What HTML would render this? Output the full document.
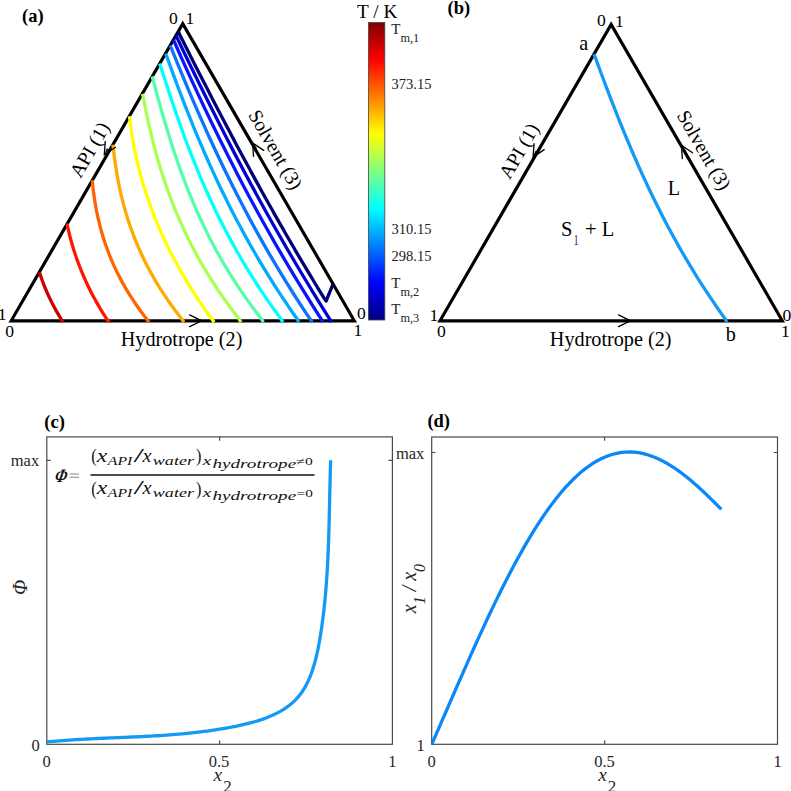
<!DOCTYPE html><html><head><meta charset="utf-8"><title>figure</title><style>html,body{margin:0;padding:0;background:#fff;width:791px;height:791px;overflow:hidden;}svg{display:block;}text{font-family:"Liberation Serif",serif;}</style></head><body>
<svg width="791" height="791" viewBox="0 0 791 791">
<rect width="791" height="791" fill="#fff"/>
<path d="M11.2,320.8L354.3,320.8L182.75,23.7Z" fill="none" stroke="#000" stroke-width="3.2" stroke-linejoin="miter" stroke-miterlimit="10"/>
<path d="M39.50,272.30L40.32,274.85L41.17,277.41L42.07,279.96L43.01,282.51L43.99,285.06L45.01,287.62L46.07,290.17L47.18,292.72L48.33,295.27L49.52,297.83L50.76,300.38L52.04,302.93L53.36,305.48L54.72,308.04L56.13,310.59L57.58,313.14L59.07,315.69L60.60,318.25L62.20,320.80L63.01,322.10" fill="none" stroke="#cc0000" stroke-width="3.3" stroke-linejoin="round"/>
<path d="M67.00,223.50L67.46,226.06L68.03,228.62L68.63,231.18L69.25,233.74L69.90,236.30L70.58,238.86L71.28,241.42L72.00,243.98L72.76,246.54L73.54,249.11L74.35,251.67L75.19,254.23L76.06,256.79L76.95,259.35L77.88,261.91L78.83,264.47L79.81,267.03L80.83,269.59L81.87,272.15L82.94,274.71L84.05,277.27L85.19,279.83L86.35,282.39L87.55,284.95L88.79,287.51L90.05,290.07L91.35,292.63L92.68,295.19L94.05,297.76L95.45,300.32L96.88,302.88L98.35,305.44L99.85,308.00L101.39,310.56L102.96,313.12L104.57,315.68L106.22,318.24L108.10,320.80L109.06,322.10" fill="none" stroke="#ff1500" stroke-width="3.3" stroke-linejoin="round"/>
<path d="M92.10,180.20L92.48,182.71L92.73,185.22L93.01,187.73L93.30,190.24L93.62,192.75L93.95,195.26L94.31,197.77L94.69,200.29L95.10,202.80L95.53,205.31L95.98,207.82L96.45,210.33L96.95,212.84L97.48,215.35L98.03,217.86L98.61,220.37L99.21,222.88L99.84,225.39L100.50,227.90L101.18,230.41L101.90,232.93L102.64,235.44L103.41,237.95L104.21,240.46L105.04,242.97L105.90,245.48L106.80,247.99L107.72,250.50L108.68,253.01L109.66,255.52L110.68,258.03L111.74,260.54L112.82,263.05L113.94,265.56L115.10,268.07L116.29,270.59L117.51,273.10L118.77,275.61L120.07,278.12L121.40,280.63L122.77,283.14L124.18,285.65L125.62,288.16L127.11,290.67L128.63,293.18L130.19,295.69L131.79,298.20L133.44,300.71L135.12,303.23L136.84,305.74L138.60,308.25L140.41,310.76L142.26,313.27L144.15,315.78L146.09,318.29L147.90,320.80L148.84,322.10" fill="none" stroke="#ff6400" stroke-width="3.3" stroke-linejoin="round"/>
<path d="M112.80,144.70L113.25,147.22L113.52,149.73L113.81,152.25L114.11,154.76L114.42,157.28L114.75,159.79L115.09,162.31L115.46,164.83L115.83,167.34L116.23,169.86L116.64,172.37L117.07,174.89L117.52,177.40L117.99,179.92L118.47,182.44L118.97,184.95L119.50,187.47L120.04,189.98L120.60,192.50L121.18,195.01L121.78,197.53L122.41,200.05L123.05,202.56L123.72,205.08L124.41,207.59L125.12,210.11L125.85,212.62L126.60,215.14L127.38,217.66L128.18,220.17L129.01,222.69L129.86,225.20L130.73,227.72L131.63,230.23L132.55,232.75L133.50,235.27L134.48,237.78L135.48,240.30L136.51,242.81L137.56,245.33L138.64,247.84L139.75,250.36L140.89,252.88L142.05,255.39L143.24,257.91L144.46,260.42L145.71,262.94L146.99,265.45L148.30,267.97L149.64,270.49L151.01,273.00L152.41,275.52L153.84,278.03L155.31,280.55L156.80,283.06L158.33,285.58L159.88,288.10L161.47,290.61L163.10,293.13L164.76,295.64L166.45,298.16L168.17,300.67L169.93,303.19L171.72,305.71L173.55,308.22L175.41,310.74L177.31,313.25L179.25,315.77L181.22,318.28L183.00,320.80L183.92,322.10" fill="none" stroke="#ffaa00" stroke-width="3.3" stroke-linejoin="round"/>
<path d="M129.40,116.30L129.81,118.82L130.11,121.35L130.42,123.87L130.75,126.40L131.10,128.92L131.46,131.45L131.84,133.97L132.24,136.50L132.66,139.02L133.10,141.55L133.55,144.07L134.02,146.60L134.51,149.12L135.02,151.65L135.54,154.17L136.09,156.70L136.65,159.22L137.23,161.74L137.83,164.27L138.44,166.79L139.08,169.32L139.73,171.84L140.40,174.37L141.10,176.89L141.80,179.42L142.53,181.94L143.28,184.47L144.04,186.99L144.83,189.52L145.63,192.04L146.46,194.57L147.30,197.09L148.16,199.61L149.04,202.14L149.94,204.66L150.86,207.19L151.79,209.71L152.75,212.24L153.73,214.76L154.73,217.29L155.74,219.81L156.78,222.34L157.84,224.86L158.91,227.39L160.01,229.91L161.12,232.44L162.26,234.96L163.41,237.49L164.59,240.01L165.79,242.53L167.00,245.06L168.24,247.58L169.50,250.11L170.78,252.63L172.07,255.16L173.39,257.68L174.73,260.21L176.09,262.73L177.47,265.26L178.88,267.78L180.30,270.31L181.74,272.83L183.21,275.36L184.69,277.88L186.20,280.40L187.73,282.93L189.28,285.45L190.85,287.98L192.44,290.50L194.06,293.03L195.69,295.55L197.35,298.08L199.03,300.60L200.73,303.13L202.45,305.65L204.19,308.18L205.96,310.70L207.74,313.23L209.55,315.75L211.39,318.28L213.20,320.80L214.13,322.10" fill="none" stroke="#ffff00" stroke-width="3.3" stroke-linejoin="round"/>
<path d="M142.50,93.90L143.10,96.42L143.57,98.94L144.05,101.46L144.54,103.98L145.04,106.51L145.55,109.03L146.06,111.55L146.59,114.07L147.12,116.59L147.67,119.11L148.22,121.63L148.78,124.15L149.35,126.67L149.94,129.20L150.53,131.72L151.13,134.24L151.75,136.76L152.37,139.28L153.01,141.80L153.66,144.32L154.32,146.84L154.99,149.36L155.68,151.89L156.37,154.41L157.08,156.93L157.80,159.45L158.54,161.97L159.29,164.49L160.05,167.01L160.82,169.53L161.61,172.05L162.42,174.58L163.24,177.10L164.07,179.62L164.92,182.14L165.78,184.66L166.66,187.18L167.55,189.70L168.46,192.22L169.38,194.74L170.32,197.27L171.28,199.79L172.25,202.31L173.24,204.83L174.25,207.35L175.27,209.87L176.31,212.39L177.37,214.91L178.45,217.43L179.54,219.96L180.66,222.48L181.79,225.00L182.94,227.52L184.11,230.04L185.29,232.56L186.50,235.08L187.73,237.60L188.97,240.12L190.24,242.65L191.53,245.17L192.83,247.69L194.16,250.21L195.51,252.73L196.88,255.25L198.27,257.77L199.68,260.29L201.12,262.81L202.57,265.34L204.05,267.86L205.55,270.38L207.07,272.90L208.62,275.42L210.18,277.94L211.78,280.46L213.39,282.98L215.03,285.50L216.69,288.03L218.38,290.55L220.09,293.07L221.82,295.59L223.58,298.11L225.37,300.63L227.18,303.15L229.01,305.67L230.88,308.19L232.76,310.72L234.67,313.24L236.61,315.76L238.58,318.28L240.20,320.80L241.04,322.10" fill="none" stroke="#aaff55" stroke-width="3.3" stroke-linejoin="round"/>
<path d="M152.20,76.40L152.78,78.92L153.46,81.44L154.14,83.96L154.82,86.48L155.50,89.00L156.18,91.52L156.87,94.04L157.57,96.56L158.26,99.08L158.96,101.60L159.67,104.12L160.38,106.64L161.09,109.15L161.81,111.67L162.53,114.19L163.26,116.71L164.00,119.23L164.74,121.75L165.49,124.27L166.24,126.79L167.00,129.31L167.77,131.83L168.55,134.35L169.33,136.87L170.12,139.39L170.92,141.91L171.72,144.43L172.54,146.95L173.36,149.47L174.19,151.99L175.04,154.51L175.89,157.03L176.75,159.55L177.62,162.07L178.50,164.59L179.39,167.11L180.29,169.62L181.20,172.14L182.12,174.66L183.06,177.18L184.01,179.70L184.96,182.22L185.93,184.74L186.92,187.26L187.91,189.78L188.92,192.30L189.94,194.82L190.97,197.34L192.02,199.86L193.08,202.38L194.16,204.90L195.25,207.42L196.35,209.94L197.47,212.46L198.60,214.98L199.75,217.50L200.92,220.02L202.10,222.54L203.29,225.06L204.51,227.58L205.73,230.09L206.98,232.61L208.24,235.13L209.52,237.65L210.82,240.17L212.13,242.69L213.47,245.21L214.82,247.73L216.19,250.25L217.57,252.77L218.98,255.29L220.41,257.81L221.85,260.33L223.32,262.85L224.80,265.37L226.30,267.89L227.83,270.41L229.37,272.93L230.94,275.45L232.53,277.97L234.14,280.49L235.77,283.01L237.42,285.53L239.09,288.05L240.79,290.56L242.51,293.08L244.25,295.60L246.01,298.12L247.80,300.64L249.61,303.16L251.45,305.68L253.31,308.20L255.19,310.72L257.10,313.24L259.03,315.76L260.99,318.28L262.60,320.80L263.43,322.10" fill="none" stroke="#55ffaa" stroke-width="3.3" stroke-linejoin="round"/>
<path d="M159.50,63.60L160.63,66.12L161.42,68.64L162.21,71.16L163.01,73.69L163.81,76.21L164.61,78.73L165.42,81.25L166.23,83.77L167.05,86.29L167.87,88.82L168.69,91.34L169.52,93.86L170.35,96.38L171.19,98.90L172.03,101.42L172.88,103.95L173.74,106.47L174.59,108.99L175.46,111.51L176.33,114.03L177.21,116.55L178.09,119.07L178.98,121.60L179.87,124.12L180.77,126.64L181.68,129.16L182.60,131.68L183.52,134.20L184.45,136.73L185.38,139.25L186.33,141.77L187.28,144.29L188.24,146.81L189.21,149.33L190.18,151.85L191.17,154.38L192.16,156.90L193.16,159.42L194.17,161.94L195.19,164.46L196.22,166.98L197.25,169.51L198.30,172.03L199.36,174.55L200.42,177.07L201.50,179.59L202.58,182.11L203.68,184.64L204.79,187.16L205.90,189.68L207.03,192.20L208.17,194.72L209.32,197.24L210.48,199.76L211.65,202.29L212.84,204.81L214.03,207.33L215.24,209.85L216.46,212.37L217.69,214.89L218.93,217.42L220.18,219.94L221.45,222.46L222.73,224.98L224.03,227.50L225.33,230.02L226.65,232.55L227.99,235.07L229.33,237.59L230.69,240.11L232.07,242.63L233.46,245.15L234.86,247.67L236.28,250.20L237.71,252.72L239.15,255.24L240.61,257.76L242.09,260.28L243.58,262.80L245.09,265.33L246.61,267.85L248.14,270.37L249.70,272.89L251.26,275.41L252.85,277.93L254.45,280.45L256.07,282.98L257.70,285.50L259.35,288.02L261.02,290.54L262.70,293.06L264.40,295.58L266.12,298.11L267.86,300.63L269.61,303.15L271.38,305.67L273.17,308.19L274.98,310.71L276.81,313.24L278.65,315.76L280.51,318.28L282.10,320.80L282.92,322.10" fill="none" stroke="#00ffff" stroke-width="3.3" stroke-linejoin="round"/>
<path d="M165.60,53.70L166.75,56.22L167.65,58.74L168.55,61.26L169.45,63.78L170.36,66.30L171.27,68.82L172.19,71.34L173.11,73.86L174.03,76.38L174.96,78.90L175.89,81.42L176.83,83.94L177.77,86.46L178.72,88.98L179.67,91.50L180.63,94.02L181.59,96.54L182.55,99.06L183.52,101.58L184.50,104.10L185.48,106.62L186.47,109.14L187.46,111.66L188.46,114.18L189.46,116.70L190.47,119.22L191.48,121.73L192.50,124.25L193.53,126.77L194.57,129.29L195.60,131.81L196.65,134.33L197.70,136.85L198.76,139.37L199.83,141.89L200.90,144.41L201.98,146.93L203.07,149.45L204.16,151.97L205.26,154.49L206.37,157.01L207.48,159.53L208.60,162.05L209.73,164.57L210.87,167.09L212.01,169.61L213.17,172.13L214.33,174.65L215.50,177.17L216.67,179.69L217.86,182.21L219.05,184.73L220.25,187.25L221.46,189.77L222.68,192.29L223.91,194.81L225.15,197.33L226.39,199.85L227.64,202.37L228.91,204.89L230.18,207.41L231.46,209.93L232.75,212.45L234.05,214.97L235.36,217.49L236.68,220.01L238.01,222.53L239.35,225.05L240.69,227.57L242.05,230.09L243.42,232.61L244.80,235.13L246.19,237.65L247.59,240.17L249.00,242.69L250.42,245.21L251.85,247.73L253.29,250.25L254.74,252.77L256.21,255.28L257.68,257.80L259.17,260.32L260.67,262.84L262.17,265.36L263.69,267.88L265.23,270.40L266.77,272.92L268.32,275.44L269.89,277.96L271.47,280.48L273.06,283.00L274.66,285.52L276.28,288.04L277.90,290.56L279.54,293.08L281.19,295.60L282.86,298.12L284.54,300.64L286.23,303.16L287.93,305.68L289.64,308.20L291.37,310.72L293.11,313.24L294.87,315.76L296.64,318.28L298.10,320.80L298.85,322.10" fill="none" stroke="#00aaff" stroke-width="3.3" stroke-linejoin="round"/>
<path d="M170.10,45.30L171.18,47.80L172.18,50.31L173.19,52.81L174.20,55.32L175.22,57.82L176.24,60.33L177.26,62.83L178.28,65.34L179.31,67.84L180.34,70.35L181.37,72.85L182.41,75.35L183.45,77.86L184.50,80.36L185.54,82.87L186.59,85.37L187.65,87.88L188.71,90.38L189.77,92.89L190.84,95.39L191.91,97.90L192.99,100.40L194.06,102.90L195.15,105.41L196.24,107.91L197.33,110.42L198.42,112.92L199.53,115.43L200.63,117.93L201.74,120.44L202.86,122.94L203.98,125.45L205.10,127.95L206.23,130.45L207.36,132.96L208.50,135.46L209.65,137.97L210.79,140.47L211.95,142.98L213.11,145.48L214.27,147.99L215.44,150.49L216.62,153.00L217.80,155.50L218.99,158.00L220.18,160.51L221.38,163.01L222.58,165.52L223.79,168.02L225.01,170.53L226.23,173.03L227.46,175.54L228.69,178.04L229.93,180.55L231.18,183.05L232.43,185.55L233.69,188.06L234.96,190.56L236.23,193.07L237.51,195.57L238.79,198.08L240.08,200.58L241.38,203.09L242.69,205.59L244.00,208.10L245.32,210.60L246.65,213.10L247.98,215.61L249.32,218.11L250.67,220.62L252.02,223.12L253.39,225.63L254.76,228.13L256.13,230.64L257.52,233.14L258.91,235.65L260.31,238.15L261.72,240.65L263.13,243.16L264.56,245.66L265.99,248.17L267.43,250.67L268.88,253.18L270.33,255.68L271.80,258.19L273.27,260.69L274.75,263.20L276.24,265.70L277.74,268.20L279.24,270.71L280.76,273.21L282.28,275.72L283.81,278.22L285.35,280.73L286.90,283.23L288.46,285.74L290.03,288.24L291.61,290.75L293.19,293.25L294.79,295.75L296.39,298.26L298.01,300.76L299.63,303.27L301.26,305.77L302.90,308.28L304.56,310.78L306.22,313.29L307.89,315.79L309.57,318.30L311.30,320.80L312.20,322.10" fill="none" stroke="#0a74ff" stroke-width="3.3" stroke-linejoin="round"/>
<path d="M173.50,40.00L174.66,42.51L175.77,45.01L176.88,47.52L177.99,50.03L179.10,52.54L180.22,55.04L181.34,57.55L182.47,60.06L183.60,62.56L184.73,65.07L185.86,67.58L187.00,70.09L188.14,72.59L189.28,75.10L190.43,77.61L191.58,80.11L192.73,82.62L193.89,85.13L195.05,87.64L196.21,90.14L197.38,92.65L198.55,95.16L199.72,97.66L200.90,100.17L202.08,102.68L203.27,105.19L204.45,107.69L205.65,110.20L206.84,112.71L208.04,115.21L209.24,117.72L210.45,120.23L211.66,122.74L212.88,125.24L214.10,127.75L215.32,130.26L216.55,132.76L217.78,135.27L219.01,137.78L220.25,140.29L221.49,142.79L222.74,145.30L223.99,147.81L225.25,150.31L226.51,152.82L227.77,155.33L229.04,157.84L230.31,160.34L231.59,162.85L232.87,165.36L234.16,167.86L235.45,170.37L236.74,172.88L238.04,175.39L239.35,177.89L240.66,180.40L241.97,182.91L243.29,185.41L244.61,187.92L245.94,190.43L247.27,192.94L248.61,195.44L249.95,197.95L251.30,200.46L252.65,202.96L254.01,205.47L255.37,207.98L256.74,210.49L258.11,212.99L259.49,215.50L260.87,218.01L262.26,220.51L263.65,223.02L265.05,225.53L266.45,228.04L267.86,230.54L269.28,233.05L270.69,235.56L272.12,238.06L273.55,240.57L274.99,243.08L276.43,245.59L277.87,248.09L279.33,250.60L280.78,253.11L282.25,255.61L283.72,258.12L285.19,260.63L286.67,263.14L288.16,265.64L289.65,268.15L291.15,270.66L292.66,273.16L294.17,275.67L295.68,278.18L297.20,280.69L298.73,283.19L300.27,285.70L301.81,288.21L303.35,290.71L304.90,293.22L306.46,295.73L308.03,298.24L309.60,300.74L311.18,303.25L312.76,305.76L314.35,308.26L315.95,310.77L317.55,313.28L319.16,315.79L320.78,318.29L322.10,320.80L322.79,322.10" fill="none" stroke="#0a14ff" stroke-width="3.3" stroke-linejoin="round"/>
<path d="M176.20,35.50L177.17,38.00L178.36,40.51L179.56,43.01L180.75,45.51L181.95,48.01L183.15,50.52L184.35,53.02L185.55,55.52L186.76,58.02L187.96,60.53L189.17,63.03L190.38,65.53L191.60,68.03L192.82,70.54L194.03,73.04L195.25,75.54L196.48,78.04L197.70,80.55L198.93,83.05L200.16,85.55L201.40,88.06L202.63,90.56L203.87,93.06L205.11,95.56L206.35,98.07L207.60,100.57L208.85,103.07L210.10,105.57L211.36,108.08L212.61,110.58L213.87,113.08L215.13,115.58L216.40,118.09L217.67,120.59L218.94,123.09L220.21,125.59L221.49,128.10L222.77,130.60L224.05,133.10L225.34,135.61L226.63,138.11L227.92,140.61L229.21,143.11L230.51,145.62L231.81,148.12L233.12,150.62L234.43,153.12L235.74,155.63L237.05,158.13L238.37,160.63L239.69,163.13L241.01,165.64L242.34,168.14L243.67,170.64L245.01,173.14L246.34,175.65L247.69,178.15L249.03,180.65L250.38,183.16L251.73,185.66L253.09,188.16L254.45,190.66L255.81,193.17L257.18,195.67L258.55,198.17L259.92,200.67L261.30,203.18L262.68,205.68L264.07,208.18L265.45,210.68L266.85,213.19L268.24,215.69L269.65,218.19L271.05,220.69L272.46,223.20L273.87,225.70L275.29,228.20L276.71,230.71L278.14,233.21L279.56,235.71L281.00,238.21L282.44,240.72L283.88,243.22L285.32,245.72L286.77,248.22L288.23,250.73L289.69,253.23L291.15,255.73L292.62,258.23L294.09,260.74L295.57,263.24L297.05,265.74L298.53,268.24L300.02,270.75L301.52,273.25L303.02,275.75L304.52,278.26L306.03,280.76L307.54,283.26L309.06,285.76L310.58,288.27L312.11,290.77L313.64,293.27L315.17,295.77L316.72,298.28L318.26,300.78L319.81,303.28L321.37,305.78L322.93,308.29L324.50,310.79L326.07,313.29L327.64,315.79L329.22,318.30L330.70,320.80L331.47,322.10" fill="none" stroke="#0000d2" stroke-width="3.3" stroke-linejoin="round"/>
<path d="M178.80,32.00L179.61,34.51L180.87,37.03L182.14,39.54L183.41,42.06L184.68,44.57L185.95,47.09L187.22,49.60L188.50,52.12L189.77,54.63L191.05,57.15L192.32,59.66L193.60,62.18L194.88,64.69L196.16,67.21L197.45,69.72L198.73,72.24L200.01,74.75L201.30,77.27L202.59,79.78L203.88,82.30L205.17,84.81L206.46,87.33L207.76,89.84L209.05,92.36L210.35,94.87L211.65,97.39L212.95,99.90L214.26,102.42L215.56,104.93L216.87,107.45L218.18,109.96L219.49,112.48L220.80,114.99L222.12,117.51L223.43,120.02L224.75,122.54L226.08,125.05L227.40,127.57L228.72,130.08L230.05,132.60L231.38,135.11L232.71,137.63L234.05,140.14L235.39,142.66L236.73,145.17L238.07,147.69L239.41,150.20L240.76,152.72L242.11,155.23L243.46,157.75L244.82,160.26L246.18,162.78L247.54,165.29L248.90,167.81L250.26,170.32L251.63,172.84L253.00,175.35L254.38,177.87L255.75,180.38L257.13,182.90L258.52,185.41L259.90,187.93L261.29,190.44L262.69,192.96L264.08,195.47L265.48,197.99L266.88,200.50L268.28,203.02L269.69,205.53L271.10,208.05L272.52,210.56L273.94,213.08L275.36,215.59L276.78,218.11L278.21,220.62L279.64,223.14L281.08,225.65L282.52,228.17L283.96,230.68L285.40,233.20L286.85,235.71L288.31,238.23L289.76,240.74L291.22,243.26L292.69,245.77L294.16,248.29L295.63,250.80L297.11,253.32L298.59,255.83L300.07,258.35L301.56,260.86L303.05,263.38L304.55,265.89L306.05,268.41L307.55,270.92L309.06,273.44L310.57,275.95L312.09,278.47L313.61,280.98L315.14,283.50L316.67,286.01L318.20,288.53L319.74,291.04L321.28,293.56L322.83,296.07L324.38,298.59L326.10,301.10L332.9,284.4" fill="none" stroke="#000078" stroke-width="3.3" stroke-linejoin="round"/>
<path d="M189.66,326.67L201.70,320.80L189.66,314.93" fill="none" stroke="#000" stroke-width="1.3" stroke-linecap="round" stroke-linejoin="miter"/><path d="M194.79,321.90L201.70,320.80L194.79,319.70Z" fill="#000"/>
<path d="M105.23,141.33L104.30,154.70L115.41,147.21" fill="none" stroke="#000" stroke-width="1.3" stroke-linecap="round" stroke-linejoin="miter"/><path d="M106.81,148.16L104.30,154.70L108.71,149.26Z" fill="#000"/>
<path d="M263.71,150.39L252.60,142.90L253.53,156.27" fill="none" stroke="#000" stroke-width="1.3" stroke-linecap="round" stroke-linejoin="miter"/><path d="M257.01,148.34L252.60,142.90L255.11,149.44Z" fill="#000"/>
<text x="173.45" y="24" font-size="17.6" text-anchor="middle" >0</text>
<text x="190.0" y="24" font-size="17.6" text-anchor="middle" >1</text>
<text x="2.1" y="319.5" font-size="17.6" text-anchor="middle" >1</text>
<text x="9.75" y="336.7" font-size="17.6" text-anchor="middle" >0</text>
<text x="361.3" y="319" font-size="17.6" text-anchor="middle" >0</text>
<text x="358" y="336" font-size="17.6" text-anchor="middle" >1</text>
<text x="181.6" y="345.5" font-size="20.2" text-anchor="middle" >Hydrotrope (2)</text>
<text transform="translate(90.2,150.1) rotate(-60)" font-size="19.8" text-anchor="middle" y="6">API (1)</text>
<text transform="translate(275,150) rotate(60)" font-size="19.8" text-anchor="middle" y="6">Solvent (3)</text>
<text x="22" y="21.8" font-size="18.5" text-anchor="start" font-weight="bold">(a)</text>
<defs><linearGradient id="jet" x1="0" y1="0" x2="0" y2="1"><stop offset="0" stop-color="#800000"/><stop offset="0.125" stop-color="#ff0000"/><stop offset="0.375" stop-color="#ffff00"/><stop offset="0.625" stop-color="#00ffff"/><stop offset="0.875" stop-color="#0000ff"/><stop offset="1" stop-color="#000080"/></linearGradient></defs>
<rect x="368.5" y="22.5" width="16.3" height="297.5" fill="url(#jet)" stroke="#444" stroke-width="0.8"/>
<text x="377.25" y="18.3" font-size="19.3" text-anchor="middle" >T / K</text>
<g fill="#222">
<text x="391.3" y="33.9" font-size="15">T<tspan font-size="12.3" dy="7.8">m,1</tspan></text>
<text x="391.5" y="88.5" font-size="14.5" text-anchor="start" >373.15</text>
<text x="391.5" y="233.7" font-size="14.5" text-anchor="start" >310.15</text>
<text x="391.5" y="260.8" font-size="14.5" text-anchor="start" >298.15</text>
<text x="391.3" y="288" font-size="15">T<tspan font-size="12.3" dy="7.8">m,2</tspan></text>
<text x="391.3" y="314.2" font-size="15">T<tspan font-size="12.3" dy="7.8">m,3</tspan></text>
</g>
<path d="M440,320.8L782.3,320.8L611.15,24.4Z" fill="none" stroke="#000" stroke-width="3.2" stroke-linejoin="miter" stroke-miterlimit="10"/>
<path d="M593.90,54.10L595.00,56.62L595.92,59.13L596.84,61.65L597.77,64.16L598.70,66.68L599.63,69.20L600.56,71.71L601.50,74.23L602.44,76.74L603.38,79.26L604.32,81.78L605.27,84.29L606.22,86.81L607.18,89.32L608.13,91.84L609.10,94.36L610.06,96.87L611.03,99.39L612.00,101.90L612.98,104.42L613.96,106.94L614.95,109.45L615.94,111.97L616.93,114.48L617.93,117.00L618.93,119.52L619.94,122.03L620.96,124.55L621.98,127.07L623.00,129.58L624.03,132.10L625.07,134.61L626.11,137.13L627.16,139.65L628.21,142.16L629.27,144.68L630.34,147.19L631.41,149.71L632.49,152.23L633.58,154.74L634.67,157.26L635.77,159.77L636.88,162.29L637.99,164.81L639.12,167.32L640.24,169.84L641.38,172.35L642.53,174.87L643.68,177.39L644.84,179.90L646.01,182.42L647.18,184.93L648.37,187.45L649.56,189.97L650.76,192.48L651.97,195.00L653.19,197.51L654.42,200.03L655.66,202.55L656.91,205.06L658.16,207.58L659.43,210.09L660.71,212.61L661.99,215.13L663.29,217.64L664.59,220.16L665.91,222.67L667.24,225.19L668.57,227.71L669.92,230.22L671.28,232.74L672.65,235.25L674.03,237.77L675.42,240.29L676.82,242.80L678.23,245.32L679.66,247.83L681.09,250.35L682.54,252.87L684.00,255.38L685.47,257.90L686.96,260.42L688.45,262.93L689.96,265.45L691.48,267.96L693.02,270.48L694.57,273.00L696.12,275.51L697.70,278.03L699.28,280.54L700.88,283.06L702.49,285.58L704.12,288.09L705.76,290.61L707.41,293.12L709.08,295.64L710.76,298.16L712.46,300.67L714.17,303.19L715.89,305.70L717.63,308.22L719.39,310.74L721.16,313.25L722.94,315.77L724.74,318.28L726.20,320.80L726.96,322.10" fill="none" stroke="#149af4" stroke-width="3.3" stroke-linejoin="round"/>
<path d="M618.46,326.67L630.50,320.80L618.46,314.93" fill="none" stroke="#000" stroke-width="1.3" stroke-linecap="round" stroke-linejoin="miter"/><path d="M623.59,321.90L630.50,320.80L623.59,319.70Z" fill="#000"/>
<path d="M534.03,143.73L533.10,157.10L544.21,149.61" fill="none" stroke="#000" stroke-width="1.3" stroke-linecap="round" stroke-linejoin="miter"/><path d="M535.61,150.56L533.10,157.10L537.51,151.66Z" fill="#000"/>
<path d="M692.51,152.79L681.40,145.30L682.33,158.67" fill="none" stroke="#000" stroke-width="1.3" stroke-linecap="round" stroke-linejoin="miter"/><path d="M685.81,150.74L681.40,145.30L683.91,151.84Z" fill="#000"/>
<text x="601.4" y="26.4" font-size="17.6" text-anchor="middle" >0</text>
<text x="619.5" y="26.6" font-size="17.6" text-anchor="middle" >1</text>
<text x="434" y="320.7" font-size="17.6" text-anchor="middle" >1</text>
<text x="441.3" y="336.8" font-size="17.6" text-anchor="middle" >0</text>
<text x="787" y="321" font-size="17.6" text-anchor="middle" >0</text>
<text x="785.3" y="336.8" font-size="17.6" text-anchor="middle" >1</text>
<text x="610.7" y="345.5" font-size="20.2" text-anchor="middle" >Hydrotrope (2)</text>
<text transform="translate(519.6,151.2) rotate(-60)" font-size="19.8" text-anchor="middle" y="6">API (1)</text>
<text transform="translate(703.5,150.5) rotate(60)" font-size="19.8" text-anchor="middle" y="6">Solvent (3)</text>
<text x="447.5" y="13.5" font-size="18.5" text-anchor="start" font-weight="bold">(b)</text>
<text x="583.8" y="49.6" font-size="20.2" text-anchor="middle" >a</text>
<text x="730.7" y="340.5" font-size="20.2" text-anchor="middle" >b</text>
<text x="674" y="195.2" font-size="20.2" text-anchor="middle" >L</text>
<text x="561" y="236.3" font-size="20.5">S<tspan font-size="15" dy="9.1" dx="1.6" textLength="4.2" lengthAdjust="spacingAndGlyphs">1</tspan><tspan dy="-9.1" dx="6.9">+ L</tspan></text>
<rect x="46.8" y="436.9" width="345.59999999999997" height="307.4" fill="none" stroke="#4a4a4a" stroke-width="1.2"/>
<path d="M219.6,744.3v-3.8M219.6,436.9v3.8" stroke="#4a4a4a" stroke-width="1.2"/>
<path d="M46.8,460.4h3.8M392.4,460.4h-3.8" stroke="#4a4a4a" stroke-width="1.2"/>
<text x="44.3" y="428.1" font-size="18.5" text-anchor="start" font-weight="bold">(c)</text>
<g fill="#262626">
<text x="46.5" y="766.9" font-size="16.5" text-anchor="middle" >0</text>
<text x="219" y="767" font-size="16.5" text-anchor="middle" >0.5</text>
<text x="392.4" y="767" font-size="16.5" text-anchor="middle" >1</text>
<text x="39.2" y="466.2" font-size="16.5" text-anchor="end" >max</text>
<text x="35.6" y="751" font-size="16.5" text-anchor="middle" >0</text>
</g>
<text x="213.6" y="780.7" font-size="19.2" font-style="italic" fill="#262626">x<tspan font-size="17" dy="10.8" dx="1" font-style="normal">2</tspan></text>
<text transform="translate(26.5,587.3) rotate(-90)" font-size="20" font-style="italic" text-anchor="middle" fill="#262626">Φ</text>
<path d="M46.66,741.97L49.86,741.67L53.06,741.37L56.26,741.10L59.45,740.84L62.64,740.59L65.82,740.35L69.00,740.13L72.17,739.91L75.34,739.71L78.51,739.52L81.67,739.33L84.83,739.16L87.99,738.99L91.15,738.83L94.30,738.67L97.45,738.52L100.59,738.38L103.74,738.24L106.88,738.10L110.02,737.96L113.16,737.83L116.29,737.69L119.43,737.56L122.56,737.43L125.69,737.29L128.82,737.16L131.95,737.02L135.08,736.88L138.20,736.73L141.33,736.58L144.46,736.42L147.58,736.26L150.71,736.09L153.84,735.91L156.96,735.73L160.09,735.53L163.21,735.33L166.34,735.12L169.47,734.89L172.60,734.65L175.73,734.40L178.86,734.14L181.99,733.86L185.13,733.56L188.26,733.26L191.40,732.93L194.54,732.59L197.68,732.23L200.83,731.85L203.97,731.45L207.12,731.04L210.27,730.60L213.43,730.14L216.58,729.66L219.74,729.16L222.91,728.63L226.07,728.08L229.25,727.50L232.42,726.90L235.60,726.27L238.78,725.61L241.95,724.92L245.12,724.19L248.27,723.42L251.40,722.61L254.51,721.75L257.59,720.83L260.64,719.86L263.65,718.83L266.62,717.73L269.54,716.57L272.40,715.34L275.21,714.03L277.96,712.64L280.64,711.16L283.25,709.60L285.78,707.95L288.23,706.20L290.59,704.36L292.86,702.41L295.03,700.35L297.11,698.19L299.08,695.91L300.93,693.51L302.68,690.99L304.32,688.37L305.86,685.66L307.30,682.86L308.65,679.98L309.90,677.03L311.08,674.03L312.17,670.98L313.19,667.89L314.14,664.78L315.03,661.64L315.85,658.50L316.61,655.36L317.33,652.21L317.99,649.06L318.61,645.90L319.20,642.75L319.75,639.59L320.27,636.44L320.78,633.29L321.26,630.14L321.72,626.99L322.16,623.85L322.58,620.71L322.99,617.57L323.38,614.43L323.75,611.29L324.10,608.16L324.44,605.03L324.76,601.89L325.07,598.76L325.36,595.63L325.64,592.50L325.90,589.38L326.15,586.25L326.39,583.12L326.61,579.99L326.83,576.87L327.03,573.74L327.22,570.61L327.40,567.49L327.57,564.36L327.73,561.23L327.88,558.11L328.03,554.98L328.16,551.85L328.29,548.72L328.41,545.59L328.52,542.46L328.63,539.32L328.73,536.19L328.83,533.05L328.92,529.91L329.00,526.77L329.09,523.63L329.17,520.49L329.24,517.34L329.32,514.19L329.39,511.04L329.46,507.89L329.53,504.73L329.60,501.57L329.67,498.41L329.74,495.24L329.81,492.08L329.88,488.90L329.96,485.73L330.03,482.55L330.11,479.37L330.20,476.18L330.28,472.99L330.37,469.79L330.47,466.59L330.57,463.39L330.67,460.18" fill="none" stroke="#149af4" stroke-width="3.3" stroke-linejoin="round"/>
<g fill="#111">
<text transform="translate(53.9,481.5) skewX(-12)" font-size="19" font-style="italic" font-weight="bold" textLength="12" lengthAdjust="spacingAndGlyphs">Φ</text>
<path d="M69.5,474h9.5M69.5,477.2h9.5" stroke="#888" stroke-width="1.1"/>
<path d="M90.5,474.9H314.5" stroke="#111" stroke-width="1.5"/>
<text x="91.2" y="462.3" font-size="18"  textLength="5.4" lengthAdjust="spacingAndGlyphs" >(</text>
<text x="96.8" y="461.5" font-size="19" font-style="italic" textLength="10.5" lengthAdjust="spacingAndGlyphs" >x</text>
<text x="107.8" y="464.7" font-size="13" font-style="italic" textLength="24.5" lengthAdjust="spacingAndGlyphs" >API</text>
<text x="133.5" y="461.5" font-size="19"  textLength="10.5" lengthAdjust="spacingAndGlyphs" >/</text>
<text x="142.5" y="461.5" font-size="19" font-style="italic" textLength="9.0" lengthAdjust="spacingAndGlyphs" >x</text>
<text x="152.8" y="464.7" font-size="13.5" font-style="italic" textLength="41.2" lengthAdjust="spacingAndGlyphs" >water</text>
<text x="196.0" y="462.3" font-size="18"  textLength="5.4" lengthAdjust="spacingAndGlyphs" >)</text>
<text x="202.8" y="464.7" font-size="13.5" font-style="italic" textLength="8.4" lengthAdjust="spacingAndGlyphs" >x</text>
<text x="212.4" y="468.0" font-size="11.5" font-style="italic" textLength="83.8" lengthAdjust="spacingAndGlyphs" >hydrotrope</text>
<text x="296.6" y="464.5" font-size="10.5"  textLength="16.3" lengthAdjust="spacingAndGlyphs" >≠0</text>
<text x="91.2" y="494.6" font-size="18"  textLength="5.4" lengthAdjust="spacingAndGlyphs" >(</text>
<text x="96.8" y="493.8" font-size="19" font-style="italic" textLength="10.5" lengthAdjust="spacingAndGlyphs" >x</text>
<text x="107.8" y="497.0" font-size="13" font-style="italic" textLength="24.5" lengthAdjust="spacingAndGlyphs" >API</text>
<text x="133.5" y="493.8" font-size="19"  textLength="10.5" lengthAdjust="spacingAndGlyphs" >/</text>
<text x="142.5" y="493.8" font-size="19" font-style="italic" textLength="9.0" lengthAdjust="spacingAndGlyphs" >x</text>
<text x="152.8" y="497.0" font-size="13.5" font-style="italic" textLength="41.2" lengthAdjust="spacingAndGlyphs" >water</text>
<text x="196.0" y="494.6" font-size="18"  textLength="5.4" lengthAdjust="spacingAndGlyphs" >)</text>
<text x="202.8" y="497.0" font-size="13.5" font-style="italic" textLength="8.4" lengthAdjust="spacingAndGlyphs" >x</text>
<text x="212.4" y="500.3" font-size="11.5" font-style="italic" textLength="83.8" lengthAdjust="spacingAndGlyphs" >hydrotrope</text>
<text x="296.6" y="496.8" font-size="10.5"  textLength="16.3" lengthAdjust="spacingAndGlyphs" >=0</text>
</g>
<rect x="431.7" y="437" width="345.8" height="307.29999999999995" fill="none" stroke="#4a4a4a" stroke-width="1.2"/>
<path d="M604.6,744.3v-3.8M604.6,437v3.8" stroke="#4a4a4a" stroke-width="1.2"/>
<path d="M431.7,452.5h3.8M777.5,452.5h-3.8" stroke="#4a4a4a" stroke-width="1.2"/>
<text x="427.4" y="426.5" font-size="18.5" text-anchor="start" font-weight="bold">(d)</text>
<g fill="#262626">
<text x="431.5" y="766.7" font-size="16.5" text-anchor="middle" >0</text>
<text x="604.5" y="767" font-size="16.5" text-anchor="middle" >0.5</text>
<text x="777.5" y="766.7" font-size="16.5" text-anchor="middle" >1</text>
<text x="424.3" y="459" font-size="16.5" text-anchor="end" >max</text>
<text x="420.5" y="751" font-size="16.5" text-anchor="middle" >1</text>
</g>
<text x="598.2" y="780.9" font-size="19.2" font-style="italic" fill="#262626">x<tspan font-size="17" dy="10.8" dx="1" font-style="normal">2</tspan></text>
<text transform="translate(416,588.6) rotate(-90)" font-size="20" font-style="italic" text-anchor="middle" fill="#262626">x<tspan font-size="16" dy="8.5" font-style="italic">1</tspan><tspan dy="-8.5"> / x</tspan><tspan font-size="16" dy="8.5">0</tspan></text>
<path d="M432.00,743.74L434.43,738.19L436.86,732.62L439.29,727.04L441.72,721.46L444.16,715.86L446.59,710.27L449.02,704.68L451.45,699.09L453.88,693.51L456.31,687.93L458.74,682.38L461.17,676.83L463.60,671.31L466.04,665.80L468.47,660.32L470.90,654.87L473.33,649.45L475.76,644.05L478.19,638.69L480.62,633.37L483.05,628.09L485.48,622.85L487.92,617.66L490.35,612.51L492.78,607.41L495.21,602.36L497.64,597.37L500.07,592.43L502.50,587.55L504.93,582.73L507.36,577.97L509.79,573.28L512.23,568.65L514.66,564.09L517.09,559.60L519.52,555.19L521.95,550.85L524.38,546.58L526.81,542.39L529.24,538.29L531.67,534.26L534.11,530.31L536.54,526.45L538.97,522.68L541.40,518.99L543.83,515.39L546.26,511.88L548.69,508.47L551.12,505.14L553.55,501.91L555.99,498.77L558.42,495.73L560.85,492.79L563.28,489.94L565.71,487.19L568.14,484.54L570.57,482.00L573.00,479.55L575.43,477.21L577.87,474.96L580.30,472.82L582.73,470.79L585.16,468.86L587.59,467.03L590.02,465.31L592.45,463.69L594.88,462.18L597.31,460.77L599.75,459.47L602.18,458.27L604.61,457.18L607.04,456.19L609.47,455.31L611.90,454.53L614.33,453.86L616.76,453.29L619.19,452.82L621.63,452.46L624.06,452.20L626.49,452.04L628.92,451.98L631.35,452.02L633.78,452.17L636.21,452.40L638.64,452.74L641.07,453.17L643.51,453.70L645.94,454.32L648.37,455.03L650.80,455.83L653.23,456.73L655.66,457.71L658.09,458.77L660.52,459.92L662.95,461.15L665.38,462.47L667.82,463.86L670.25,465.33L672.68,466.87L675.11,468.48L677.54,470.17L679.97,471.92L682.40,473.74L684.83,475.62L687.26,477.55L689.70,479.55L692.13,481.60L694.56,483.70L696.99,485.85L699.42,488.05L701.85,490.28L704.28,492.56L706.71,494.87L709.14,497.22L711.58,499.59L714.01,501.99L716.44,504.41L718.87,506.84L721.30,509.29" fill="none" stroke="#0a88f8" stroke-width="3.3" stroke-linejoin="round"/>
</svg></body></html>
